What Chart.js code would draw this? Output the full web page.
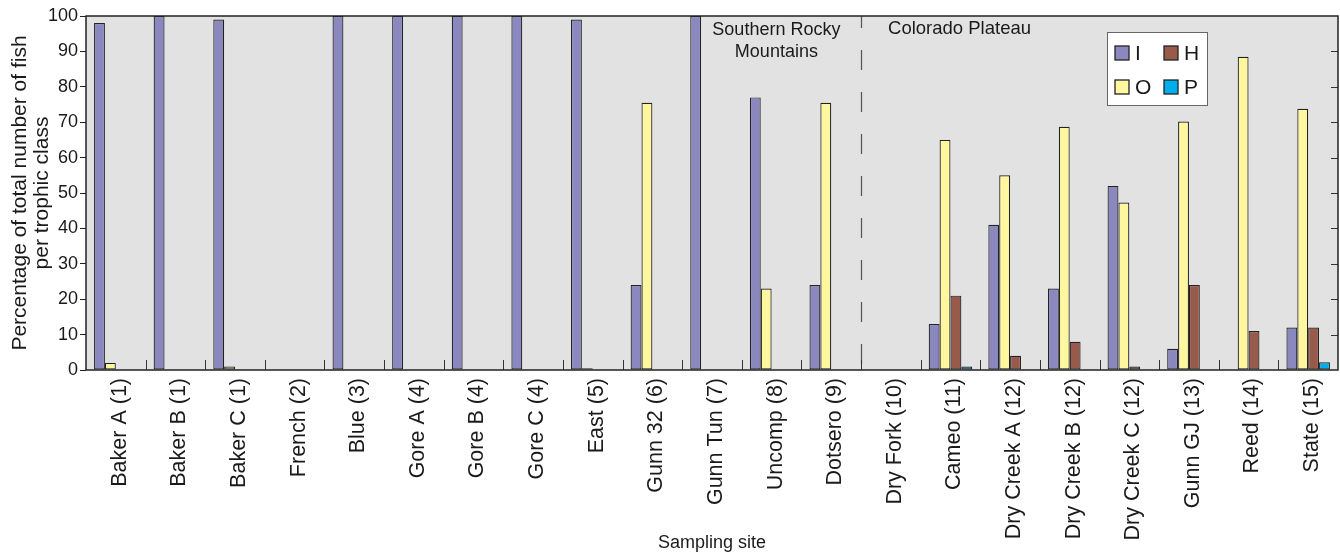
<!DOCTYPE html>
<html>
<head>
<meta charset="utf-8">
<script src="https://cdn.jsdelivr.net/npm/chart.js@4/dist/chart.umd.min.js"></script>
<style>
  html, body { margin: 0; padding: 0; background: #fff; }
  #wrap { width: 1340px; height: 552px; }
</style>
</head>
<body>
<div id="wrap"><canvas id="fishChart" width="1340" height="552"></canvas></div>
<script>
var sites = ["Baker A (1)", "Baker B (1)", "Baker C (1)", "French (2)", "Blue (3)", "Gore A (4)",
    "Gore B (4)", "Gore C (4)", "East (5)", "Gunn 32 (6)", "Gunn Tun (7)", "Uncomp (8)", "Dotsero (9)",
    "Dry Fork (10)", "Cameo (11)", "Dry Creek A (12)", "Dry Creek B (12)", "Dry Creek C (12)",
    "Gunn GJ (13)", "Reed (14)", "State (15)"];

// trophic classes
var insectivore = [98, 100, 99, 0, 100, 100, 100, 100, 99, 24, 100, 77, 24, 0, 13, 41, 23, 52, 6, 0, 12];
var omnivore    = [2, 0, 1, 0, 0, 0, 0, 0, 0.5, 75.5, 0, 23, 75.5, 0, 65, 55, 68.7, 47.3, 70.2, 88.5, 73.8];
var herbivore   = [0, 0, 0, 0, 0, 0, 0, 0, 0, 0, 0, 0, 0, 0, 21, 4, 8, 1, 24, 11, 12];
var piscivore   = [0, 0, 0, 0, 0, 0, 0, 0, 0, 0, 0, 0, 0, 0, 1, 0, 0, 0, 0, 0, 2.2];

var yTicks = [0, 10, 20, 30, 40, 50, 60, 70, 80, 90, 100];

var FONT = "'Liberation Sans', Arial, Helvetica, sans-serif";
var INK = "#1a1a1a";

function barSet(label, data, color) {
    return {
        label: label,
        // empty classes get no bar at all
        data: data.map(function (v) { return v === 0 ? null : v; }),
        backgroundColor: color,
        borderColor: "#222",
        borderWidth: 1.2,
        borderSkipped: false,
        barPercentage: 1,
        categoryPercentage: 0.73
    };
}

// grey plot area + frame, ticks, divider, region labels, legend box
var decorations = {
    id: "decorations",
    beforeDatasetsDraw: function (chart) {
        var ctx = chart.ctx, a = chart.chartArea;
        ctx.save();
        ctx.fillStyle = "#e2e2e2";
        ctx.fillRect(a.left, a.top, a.right - a.left, a.bottom - a.top);

        // dashed divider between the two regions
        var xs = chart.scales.x;
        var dx = Math.round(xs.getPixelForValue(12.5)) + 0.5;
        ctx.strokeStyle = "#555";
        ctx.lineWidth = 1.2;
        ctx.setLineDash([20, 22]);
        ctx.lineDashOffset = 8;
        ctx.beginPath();
        ctx.moveTo(dx, a.top);
        ctx.lineTo(dx, a.bottom);
        ctx.stroke();
        ctx.restore();
    },
    afterDatasetsDraw: function (chart) {
        var ctx = chart.ctx, a = chart.chartArea;
        var xs = chart.scales.x, ys = chart.scales.y;
        ctx.save();

        // inward ticks on category boundaries
        ctx.strokeStyle = "#333";
        ctx.lineWidth = 1;
        for (var i = 1; i < sites.length; i++) {
            var tx = Math.round(xs.getPixelForValue(i - 0.5)) + 0.5;
            ctx.beginPath();
            ctx.moveTo(tx, a.bottom);
            ctx.lineTo(tx, a.bottom - 10);
            ctx.stroke();
        }
        // inward ticks on right side
        yTicks.forEach(function (v) {
            if (v === 0 || v === 100) return;
            var ty = Math.round(ys.getPixelForValue(v)) + 0.5;
            ctx.beginPath();
            ctx.moveTo(a.right, ty);
            ctx.lineTo(a.right - 7, ty);
            ctx.stroke();
        });

        // frame
        ctx.strokeStyle = "#222";
        ctx.lineWidth = 1.5;
        ctx.strokeRect(a.left, a.top, a.right - a.left, a.bottom - a.top);

        // region labels
        ctx.fillStyle = INK;
        ctx.font = "18px " + FONT;
        ctx.textBaseline = "middle";
        ctx.textAlign = "center";
        var sx = xs.getPixelForValue(11.08);
        ctx.fillText("Southern Rocky", sx, a.top + 14);
        ctx.fillText("Mountains", sx, a.top + 36);
        ctx.textAlign = "left";
        ctx.font = "18.5px " + FONT;
        ctx.fillText("Colorado Plateau", xs.getPixelForValue(12.5) + 27, a.top + 13);

        // legend, two rows by two columns
        var lx = a.right - 231, ly = a.top + 16;
        ctx.fillStyle = "#fff";
        ctx.fillRect(lx, ly, 100, 73);
        ctx.strokeStyle = "#666";
        ctx.lineWidth = 1;
        ctx.strokeRect(lx + 0.5, ly + 0.5, 100, 73);
        var sets = chart.data.datasets;
        ctx.font = "21px " + FONT;
        sets.forEach(function (ds, k) {
            var col = Math.floor(k / 2), row = k % 2;
            var sx0 = lx + 8 + col * 49;
            var cy = ly + 21 + row * 34;
            ctx.fillStyle = ds.backgroundColor;
            ctx.fillRect(sx0, cy - 7, 14, 14);
            ctx.strokeStyle = "#222";
            ctx.lineWidth = 1.3;
            ctx.strokeRect(sx0, cy - 7, 14, 14);
            ctx.fillStyle = INK;
            ctx.textAlign = "left";
            ctx.fillText(ds.label, sx0 + 20, cy + 1);
        });
        ctx.restore();
    }
};

var chart = new Chart(document.getElementById("fishChart"), {
    type: "bar",
    data: {
        labels: sites,
        datasets: [
            barSet("I", insectivore, "#8b87bf"),
            barSet("O", omnivore, "#fff6a0"),
            barSet("H", herbivore, "#985a4a"),
            barSet("P", piscivore, "#00adef")
        ]
    },
    options: {
        responsive: false,
        animation: false,
        layout: { padding: { top: 16, right: 2, left: 0, bottom: 0 } },
        plugins: {
            legend: { display: false },
            tooltip: { enabled: false }
        },
        scales: {
            x: {
                grid: { display: false },
                border: { display: false },
                ticks: {
                    autoSkip: false,
                    minRotation: 90,
                    maxRotation: 90,
                    padding: 0,
                    labelOffset: 4,
                    color: INK,
                    font: { family: FONT, size: 21.5 }
                },
                title: {
                    display: true,
                    text: "Sampling site",
                    color: INK,
                    font: { family: FONT, size: 18, lineHeight: 1.0 },
                    padding: { top: 0, bottom: 0 }
                },
                afterFit: function (scale) { scale.height = 182; }
            },
            y: {
                min: 0,
                max: 100,
                grid: { drawOnChartArea: false, drawTicks: true, tickLength: 6, color: "#222" },
                border: { display: false },
                afterBuildTicks: function (scale) {
                    scale.ticks = yTicks.map(function (v) { return { value: v }; });
                },
                ticks: {
                    padding: 2,
                    color: INK,
                    font: { family: FONT, size: 18 }
                },
                title: {
                    display: true,
                    text: ["Percentage of total number of fish", "per trophic class"],
                    color: INK,
                    font: { family: FONT, size: 21, lineHeight: 1.05 },
                    padding: { top: 9, bottom: 0 }
                },
                afterFit: function (scale) { scale.width = 86; }
            }
        }
    },
    plugins: [decorations]
});
</script>
</body>
</html>
